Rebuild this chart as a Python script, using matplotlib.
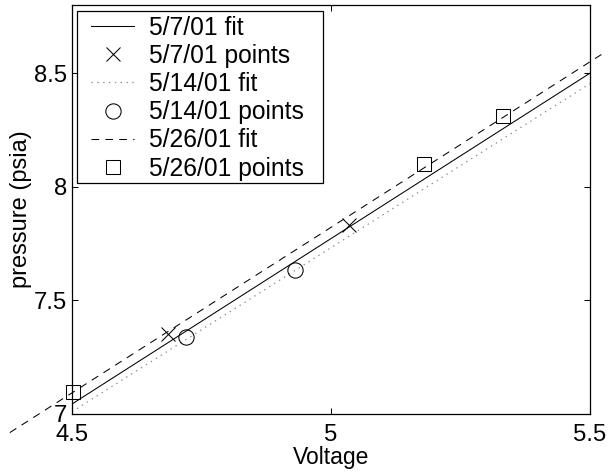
import numpy as np
import matplotlib
matplotlib.use("Agg")
import matplotlib.pyplot as plt
from matplotlib.patches import Rectangle

plt.rcParams['font.family'] = ['Liberation Sans', 'DejaVu Sans']
plt.rcParams['lines.scale_dashes'] = False

# Calibration data: voltage vs. pressure on three dates
v_0507 = [4.686, 5.035]
p_0507 = [7.351, 7.830]
v_0514 = [4.721, 4.930]
p_0514 = [7.341, 7.635]
v_0526 = [4.501, 5.180, 5.333]
p_0526 = [7.096, 8.101, 8.313]

# Linear fits (slope, intercept) and the voltage span each fit is drawn over
fit_0507 = [1.456, 0.492]
fit_0514 = [1.444, 0.512]
fit_0526 = [1.457, 0.5365]
span_0507 = [4.5, 5.5]
span_0514 = [4.5, 5.5]
span_0526 = [4.38, 5.53]

x_ticks = [4.5, 5, 5.5]
y_ticks = [7, 7.5, 8, 8.5]

fig = plt.figure(figsize=(6.09, 4.72), dpi=100)
ax = fig.add_axes([72 / 609, 58 / 472, 518 / 609, 409 / 472])

def fit_line(fit, span):
    xs = np.array(span)
    return xs, np.polyval(fit, xs)

xs, ys = fit_line(fit_0507, span_0507)
ax.plot(xs, ys, '-', color='black', lw=0.75, label='5/7/01 fit')
ax.plot(v_0507, p_0507, 'x', color='black', ms=10, mew=0.75, ls='none',
        label='5/7/01 points', clip_on=False)

xs, ys = fit_line(fit_0514, span_0514)
ax.plot(xs, ys, color='#8a8a8a', lw=0.9, ls=(0, (1, 3.2)), label='5/14/01 fit')
ax.plot(v_0514, p_0514, 'o', color='black', mfc='none', ms=11, mew=0.75,
        ls='none', label='5/14/01 points', clip_on=False)

xs, ys = fit_line(fit_0526, span_0526)
ax.plot(xs, ys, color='black', lw=0.75, ls=(0, (5.5, 4.5)), label='5/26/01 fit',
        clip_on=False)
ax.plot(v_0526, p_0526, 's', color='black', mfc='none', ms=9.5, mew=0.75,
        ls='none', label='5/26/01 points', clip_on=False)

ax.set_xlim(4.5, 5.5)
ax.set_ylim(7, 8.8)
ax.set_xticks(x_ticks)
ax.set_xticklabels(['4.5', '5', '5.5'])
ax.set_yticks(y_ticks)
ax.set_yticklabels(['7', '7.5', '8', '8.5'])
ax.tick_params(direction='in', length=4, width=0.75, top=True, right=True,
               labelsize=17.2, colors='black')
ax.tick_params(axis='x', pad=7.5)
ax.tick_params(axis='y', pad=3.5)
for s in ax.spines.values():
    s.set_linewidth(0.9)

ax.set_xlabel('Voltage', fontsize=16.5, labelpad=0)
ax.set_ylabel('pressure (psia)', fontsize=17, labelpad=1.5)

# Legend entries without a frame; the box is drawn separately with a wider
# right margin
leg = ax.legend(loc='upper left', bbox_to_anchor=(0.037, 0.974),
                fontsize=17.7, frameon=False,
                handlelength=1.75, handletextpad=0.62, labelspacing=0.17,
                borderpad=0, borderaxespad=0, numpoints=1)
box = Rectangle((0.00965, 0.5648), 0.4750, 0.4205, transform=ax.transAxes,
                facecolor='white', edgecolor='black', lw=0.9, zorder=4.9)
ax.add_patch(box)
leg.set_zorder(5)

fig.savefig('out.png', dpi=100)
